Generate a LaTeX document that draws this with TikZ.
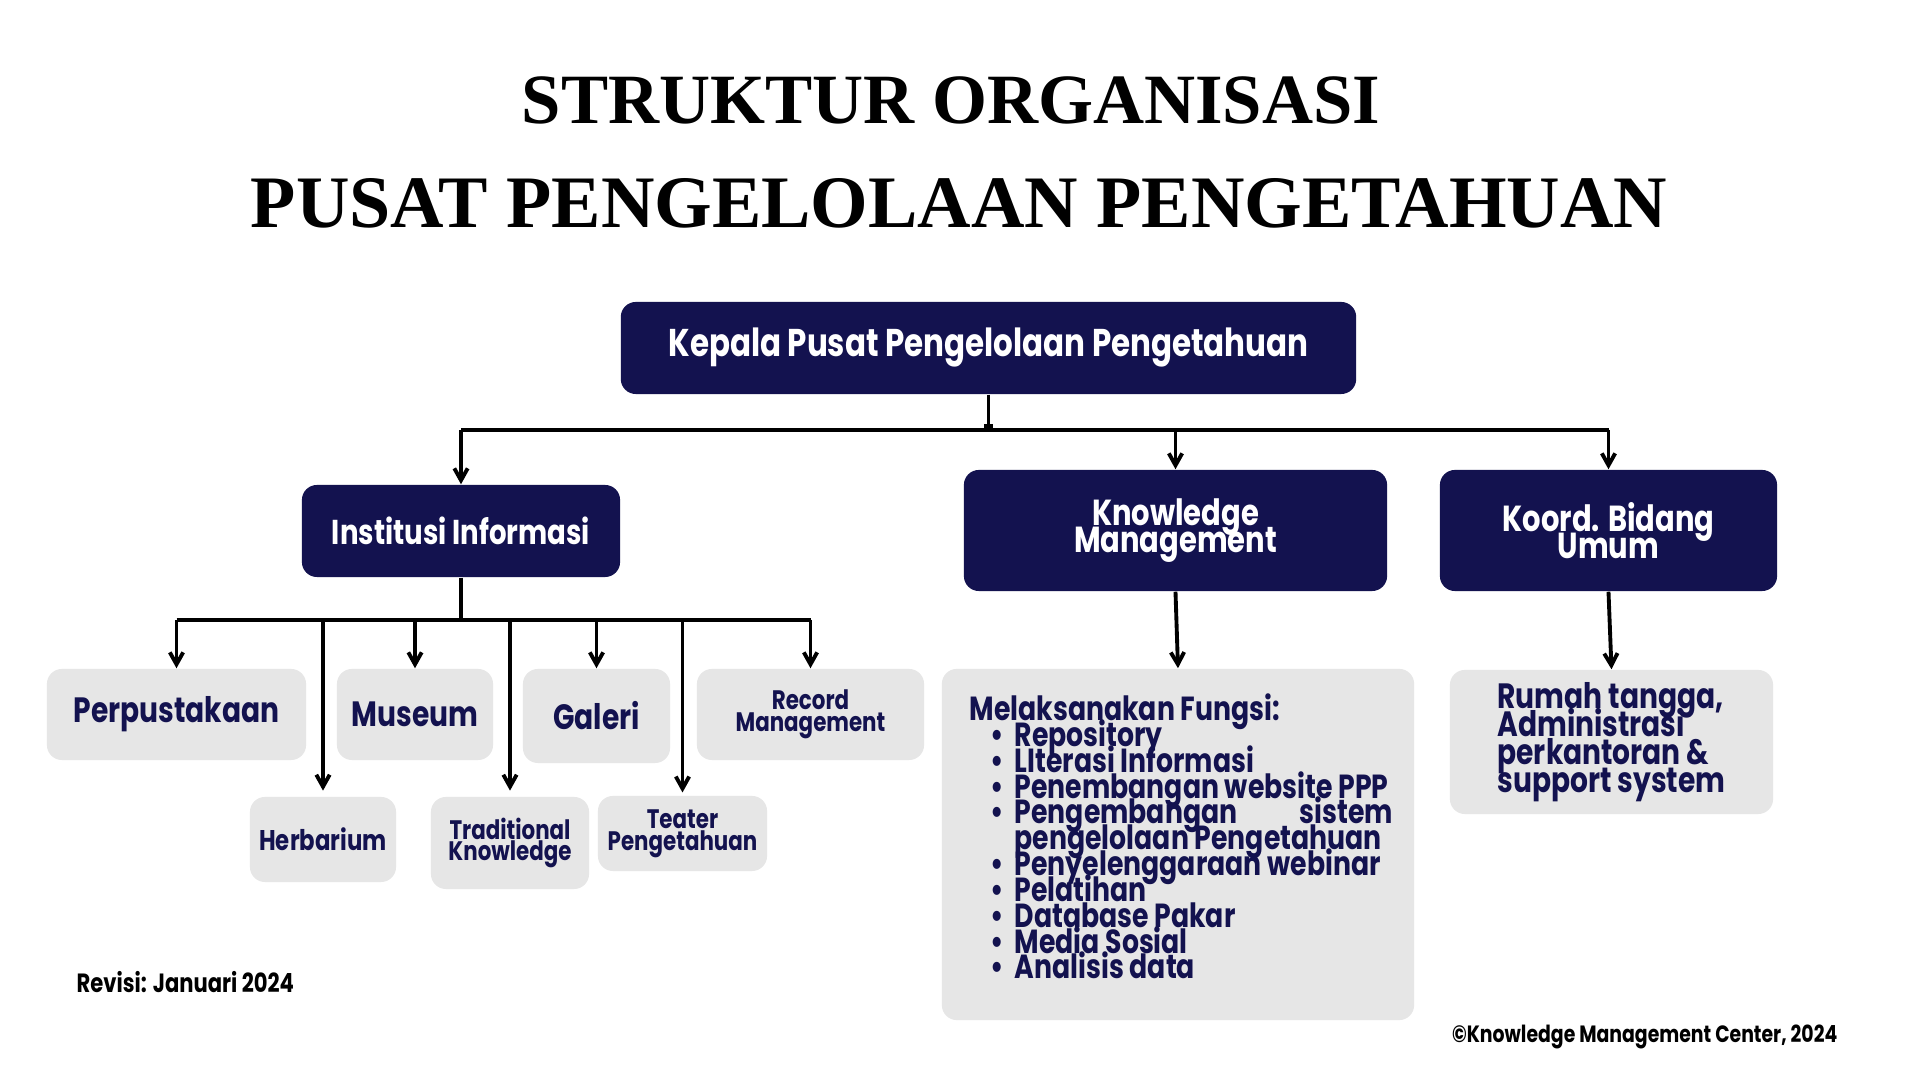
\documentclass[tikz,border=0pt]{standalone}
\usepackage{fontspec}
\setmainfont{Liberation Serif}
\newfontfamily\pop{Poppins}[FakeStretch=0.8]
\usetikzlibrary{arrows.meta}
\definecolor{navy}{HTML}{13124F}
\definecolor{lgrey}{HTML}{E6E6E6}
\newcommand\itm{\hspace*{0.21cm}\makebox[0.24cm][l]{•}}
\newcommand\fsz[2]{\pop\bfseries\fontsize{#1}{#2}\selectfont\lineskiplimit=-30pt\relax}
\tikzset{
  nbox/.style={fill=navy, text=white, rounded corners=0.15cm, inner sep=0pt, align=center,
    font=\fsz{10.3}{7.6}},
  gbox/.style={fill=lgrey, text=navy, rounded corners=0.15cm, inner sep=0pt, align=center,
    font=\fsz{10}{9}},
  smallg/.style={gbox, font=\fsz{7.6}{6.2}},
  conn/.style={line width=1.1pt, draw=black},
  arr/.style={conn, -{Straight Barb[length=3.4pt,width=3.8pt]}},
  titletext/.style={inner sep=0pt},
  foot/.style={inner sep=0pt, text=black}
}
\begin{document}
\begin{tikzpicture}[x=0.01cm,y=-0.01cm]
\path[use as bounding box, fill=white] (0,0) rectangle (1920,1080);

\node[titletext, font=\bfseries\fontsize{20.1}{25}\selectfont] (t1) at (951,100) {STRUKTUR ORGANISASI};
\node[titletext, font=\bfseries\fontsize{21.05}{25}\selectfont] (t2) at (959,203) {PUSAT PENGELOLAAN PENGETAHUAN};

\node[nbox, minimum width=7.35cm, minimum height=0.92cm, font=\fsz{11}{8}] (kepala) at (988.5,348) {Kepala Pusat Pengelolaan Pengetahuan};
\node[nbox, minimum width=3.18cm, minimum height=0.92cm, font=\fsz{9.8}{8}] (inst) at (461,531) {Institusi Informasi};
\node[nbox, minimum width=4.23cm, minimum height=1.21cm] (km) at (1175.5,530.5) {Knowledge\\Management};
\node[nbox, minimum width=3.37cm, minimum height=1.21cm] (koord) at (1608.5,530.5) {Koord. Bidang\\Umum};

\node[gbox, minimum width=2.59cm, minimum height=0.91cm] (perp) at (176.5,714.5) {Perpustakaan};
\node[gbox, minimum width=1.56cm, minimum height=0.91cm] (mus) at (415,714.5) {Museum};
\node[gbox, minimum width=1.47cm, minimum height=0.94cm] (gal) at (596.5,716) {Galeri};
\node[smallg, minimum width=2.27cm, minimum height=0.91cm] (rec) at (810.5,714.5) {Record\\Management};
\node[smallg, minimum width=1.46cm, minimum height=0.85cm, font=\fsz{8.1}{6.2}] (herb) at (323,839.5) {Herbarium};
\node[smallg, minimum width=1.58cm, minimum height=0.92cm] (trad) at (510,843) {Traditional\\Knowledge};
\node[smallg, minimum width=1.69cm, minimum height=0.75cm] (teat) at (682.5,833.5) {Teater\\Pengetahuan};

\node[gbox, minimum width=4.72cm, minimum height=3.51cm] (list) at (1178,844.5) {};
\node[anchor=north west, inner sep=0pt, text=navy, align=left,
  font=\fsz{9.5}{7.35}] (listtext) at (969,693) {Melaksanakan Fungsi:\\
\itm Repository\\
\itm LIterasi Informasi\\
\itm Penembangan website PPP\\
\itm \makebox[3.78cm][l]{Pengembangan\hfill sistem}\\
\hspace*{0.45cm}pengelolaan Pengetahuan\\
\itm Penyelenggaraan webinar\\
\itm Pelatihan\\
\itm Database Pakar\\
\itm Media Sosial\\
\itm Analisis data};

\node[gbox, minimum width=3.23cm, minimum height=1.44cm, align=left,
  font=\fsz{10}{8}] (rumah) at (1611.5,742) {Rumah tangga,\\Administrasi\\perkantoran \&\\support system};

\node[foot, anchor=west, font=\fsz{7.5}{8}] (rev) at (76,982) {Revisi: Januari 2024};
\node[foot, anchor=east, font=\fsz{6.7}{8}] (copy) at (1838,1037) {©Knowledge Management Center, 2024};

% connectors level 1
\coordinate (b1) at (0,430);
\draw[conn, -{Rectangle[length=1.6pt,width=2.8pt]}] (kepala.south) -- (kepala.south |- b1);
\draw[conn] (inst.north |- b1) -- (koord.north |- b1);
\draw[arr] (inst.north |- b1) -- (inst.north);
\draw[arr] (km.north |- b1) -- (km.north);
\draw[arr] (koord.north |- b1) -- (koord.north);

% connectors level 2
\coordinate (b2) at (0,620);
\draw[conn] (inst.south) -- (inst.south |- b2);
\draw[conn] (perp.north |- b2) -- (rec.north |- b2);
\draw[arr] (perp.north |- b2) -- (perp.north);
\draw[arr] (mus.north |- b2) -- (mus.north);
\draw[arr] (gal.north |- b2) -- (gal.north);
\draw[arr] (rec.north |- b2) -- (rec.north);
\draw[arr, shorten >=1.6pt] (herb.north |- b2) -- (herb.north);
\draw[arr, shorten >=1.6pt] (trad.north |- b2) -- (trad.north);
\draw[arr, shorten >=0.8pt] (teat.north |- b2) -- (teat.north);

% functional connectors
\draw[arr] (km.south) -- (list.north);
\draw[arr] (koord.south) -- (rumah.north);
\end{tikzpicture}
\end{document}
